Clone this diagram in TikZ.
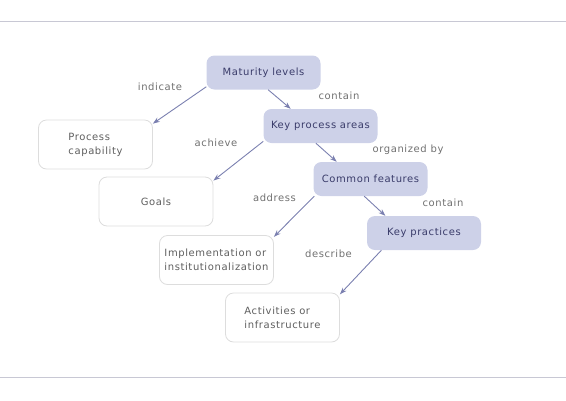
\documentclass[tikz,border=0pt]{standalone}
\usepackage{fontspec}
\setmainfont[LetterSpace=6]{DejaVu Sans}
\usetikzlibrary{arrows.meta}
\definecolor{boxfill}{RGB}{205,209,232}
\definecolor{boxtext}{RGB}{58,60,106}
\definecolor{wtext}{RGB}{95,95,95}
\definecolor{wborder}{RGB}{221,221,221}
\definecolor{arrowc}{RGB}{123,128,176}
\definecolor{lblc}{RGB}{112,112,112}
\definecolor{rulec}{RGB}{200,200,212}
\tikzset{
  concept/.style={rectangle, rounded corners=8pt, fill=boxfill, draw=none,
    minimum width=114pt, minimum height=34pt, text=boxtext, font=\fontsize{10}{12}\selectfont, inner sep=0pt},
  plainbox/.style={rectangle, rounded corners=8pt, fill=white, draw=wborder, line width=0.8pt,
    minimum width=114pt, minimum height=49pt, text=wtext, align=left,
    font=\fontsize{10}{14}\selectfont, inner sep=0pt},
  link/.style={draw=arrowc, line width=0.9pt, -{Stealth[length=7pt,width=5pt]}},
  lbl/.style={text=lblc, font=\fontsize{10}{12}\selectfont, inner sep=0pt},
  hrule/.style={draw=rulec, line width=1pt}
}
\begin{document}
\begin{tikzpicture}[x=1pt,y=-1pt]
\useasboundingbox (0,0) rectangle (566,400);
\coordinate (r1l) at (0,21.5);
\coordinate (r1r) at (566,21.5);
\coordinate (r2l) at (0,377);
\coordinate (r2r) at (566,377);
\draw[hrule] (r1l) -- (r1r);
\draw[hrule] (r2l) -- (r2r);

\node[concept] (ml) at (263.5,72.5) {Maturity levels};
\node[concept] (kpa) at (320.5,126) {Key process areas};
\node[concept] (cf) at (370.5,179) {Common features};
\node[concept] (kp) at (424,233) {Key practices};
\node[plainbox] (pc) at (95.5,144.5) {Process\\capability};
\node[plainbox] (goals) at (156,201.5) {Goals};
\node[plainbox] (impl) at (216.5,260) {Implementation or\\institutionalization};
\node[plainbox] (act) at (282.5,317.5) {Activities or\\infrastructure};

\draw[link] (ml.194) -- (pc.20);
\draw[link] (ml.285) -- (kpa.150);
\draw[link] (kpa.195) -- (goals.20);
\draw[link] (kpa.255) -- (cf.153);
\draw[link] (cf.197) -- (impl.22);
\draw[link] (cf.250) -- (kp.156);
\draw[link] (kp.202) -- (act.22);

\node[lbl] (l1) at (160,87) {indicate};
\node[lbl] (l2) at (339,96) {contain};
\node[lbl] (l3) at (216,142.5) {achieve};
\node[lbl] (l4) at (408,149.5) {organized by};
\node[lbl] (l5) at (274.5,197.5) {address};
\node[lbl] (l6) at (443,203) {contain};
\node[lbl] (l7) at (328.5,253.5) {describe};
\end{tikzpicture}
\end{document}
